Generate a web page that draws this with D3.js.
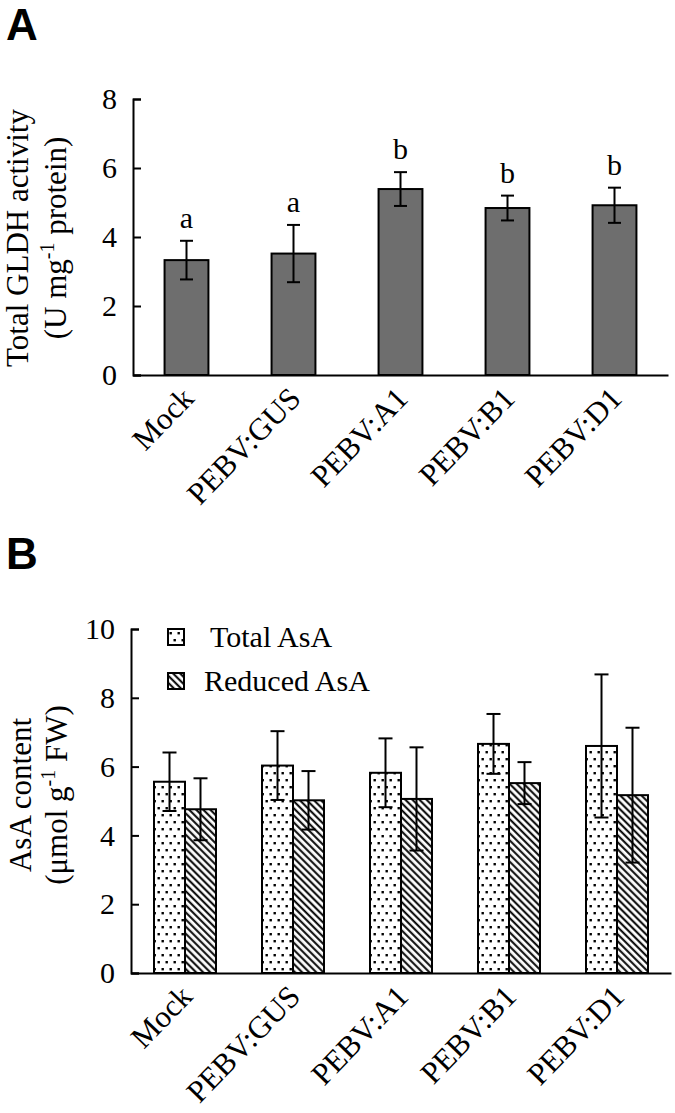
<!DOCTYPE html>
<html><head><meta charset="utf-8">
<script src="https://cdn.jsdelivr.net/npm/d3@7"></script>
<style>
body{margin:0;background:#fff}
svg{display:block}
text{font-family:"Liberation Serif","Times New Roman",serif;fill:#000}
</style>
</head><body>
<svg id="c" width="675" height="1113"></svg>
<script>
// ---------- DATA ----------
const categories = ["Mock", "PEBV:GUS", "PEBV:A1", "PEBV:B1", "PEBV:D1"];
// Panel A
const gldhMean = [3.33, 3.52, 5.39, 4.84, 4.92];
const gldhErr = [0.56, 0.83, 0.49, 0.36, 0.51];
const gldhLetters = ["a", "a", "b", "b", "b"];
const gldhTicks = [0, 2, 4, 6, 8];
// Panel B
const seriesNames = ["Total AsA", "Reduced AsA"];
const totalAsA = [5.56, 6.03, 5.82, 6.66, 6.60];
const totalAsAErr = [0.85, 1.00, 1.00, 0.87, 2.08];
const reducedAsA = [4.76, 5.02, 5.06, 5.52, 5.17];
const reducedAsAErr = [0.90, 0.85, 1.50, 0.61, 1.96];
const asaTicks = [0, 2, 4, 6, 8, 10];

// ---------- SETUP ----------
const svg = d3.select("#c");
const defs = svg.append("defs");
const dots = defs.append("pattern").attr("id", "dots").attr("patternUnits", "userSpaceOnUse")
  .attr("width", 8).attr("height", 14);
dots.append("rect").attr("width", 8).attr("height", 14).attr("fill", "#fff");
dots.append("rect").attr("x", 1.5).attr("y", 2).attr("width", 2.4).attr("height", 2.4).attr("fill", "#000");
dots.append("rect").attr("x", 5.5).attr("y", 9).attr("width", 2.4).attr("height", 2.4).attr("fill", "#000");

const hatch = defs.append("pattern").attr("id", "hatch").attr("patternUnits", "userSpaceOnUse")
  .attr("width", 5).attr("height", 5).attr("patternTransform", "rotate(-45)");
hatch.append("rect").attr("width", 5).attr("height", 5).attr("fill", "#fff");
hatch.append("line").attr("x1", 1.2).attr("y1", 0).attr("x2", 1.2).attr("y2", 5)
  .attr("stroke", "#000").attr("stroke-width", 2);

function styleAxis(g, fs) {
  g.attr("font-family", null).attr("font-size", null);
  g.selectAll("path.domain").attr("stroke", "#000").attr("stroke-width", 2);
  g.selectAll(".tick line").attr("stroke", "#000").attr("stroke-width", 2);
  g.selectAll("text").style("font-size", fs + "px");
}

function yTitle(x1, x2, cy, line1, line2a, sup, line2b) {
  svg.append("text").attr("transform", `translate(${x1},${cy}) rotate(-90)`)
    .attr("text-anchor", "middle").style("font-size", "31px").text(line1);
  const t = svg.append("text").attr("transform", `translate(${x2},${cy}) rotate(-90)`)
    .attr("text-anchor", "middle").style("font-size", "31px");
  t.append("tspan").text(line2a);
  t.append("tspan").attr("dy", -12).style("font-size", "20px").text(sup);
  t.append("tspan").attr("dy", 12).text(line2b);
}

function xAxis(xs, yPos) {
  const g = svg.append("g").attr("transform", `translate(0,${yPos})`)
    .call(d3.axisBottom(xs).tickSize(0).tickSizeOuter(0));
  styleAxis(g, 31);
  g.selectAll(".tick text").attr("x", 0).attr("y", 0).attr("dy", null)
    .attr("text-anchor", "end").attr("transform", "translate(9,25) rotate(-46)");
  return g;
}

function errBar(cx, yTop, yBot, cap) {
  const g = svg.append("g").attr("stroke", "#000").attr("stroke-width", 2);
  g.append("line").attr("x1", cx).attr("x2", cx).attr("y1", yTop).attr("y2", yBot);
  g.append("line").attr("x1", cx - cap / 2).attr("x2", cx + cap / 2).attr("y1", yTop).attr("y2", yTop);
  g.append("line").attr("x1", cx - cap / 2).attr("x2", cx + cap / 2).attr("y1", yBot).attr("y2", yBot);
}

// ---------- PANEL A ----------
svg.append("text").attr("x", 6).attr("y", 40)
  .style("font-family", "'Liberation Sans', Arial, sans-serif").style("font-weight", "bold")
  .style("font-size", "44px").text("A");

const xA = d3.scaleBand().domain(categories).range([133, 668]);
const yA = d3.scaleLinear().domain([0, 8]).range([375, 99]);
const barWA = xA.bandwidth() * 0.41;

const gyA = svg.append("g").attr("transform", "translate(133,0)")
  .call(d3.axisLeft(yA).tickValues(gldhTicks).tickSize(-8).tickSizeOuter(-8).tickPadding(16));
styleAxis(gyA, 30);

categories.forEach((c, i) => {
  const cx = xA(c) + xA.bandwidth() / 2;
  svg.append("rect").attr("x", cx - barWA / 2).attr("width", barWA)
    .attr("y", yA(gldhMean[i])).attr("height", yA(0) - yA(gldhMean[i]))
    .attr("fill", "#6e6e6e").attr("stroke", "#000").attr("stroke-width", 2);
  errBar(cx, yA(gldhMean[i] + gldhErr[i]), yA(gldhMean[i] - gldhErr[i]), 13);
  svg.append("text").attr("x", cx).attr("y", yA(gldhMean[i] + gldhErr[i]) - 13)
    .attr("text-anchor", "middle").style("font-size", "30px").text(gldhLetters[i]);
});
xAxis(xA, 375);
yTitle(28, 66, 238, "Total GLDH activity", "(U mg", "-1", " protein)");

// ---------- PANEL B ----------
svg.append("text").attr("x", 6).attr("y", 569)
  .style("font-family", "'Liberation Sans', Arial, sans-serif").style("font-weight", "bold")
  .style("font-size", "44px").text("B");

const xB = d3.scaleBand().domain(categories).range([131, 671]);
const xSub = d3.scaleBand().domain(seriesNames).range([0, xB.bandwidth() * 0.574]);
const yB = d3.scaleLinear().domain([0, 10]).range([973, 629]);
const seriesData = [
  { name: seriesNames[0], vals: totalAsA, errs: totalAsAErr, fill: "url(#dots)" },
  { name: seriesNames[1], vals: reducedAsA, errs: reducedAsAErr, fill: "url(#hatch)" }
];

const gyB = svg.append("g").attr("transform", "translate(131,0)")
  .call(d3.axisLeft(yB).tickValues(asaTicks).tickSize(-8).tickSizeOuter(-8).tickPadding(16));
styleAxis(gyB, 30);

categories.forEach((c, i) => {
  const gx = xB(c) + (xB.bandwidth() - xSub.range()[1]) / 2;
  seriesData.forEach(s => {
    const bx = gx + xSub(s.name);
    svg.append("rect").attr("x", bx).attr("width", xSub.bandwidth())
      .attr("y", yB(s.vals[i])).attr("height", yB(0) - yB(s.vals[i]))
      .attr("fill", s.fill).attr("stroke", "#000").attr("stroke-width", 2);
  });
  seriesData.forEach(s => {
    const cx = gx + xSub(s.name) + xSub.bandwidth() / 2;
    errBar(cx, yB(s.vals[i] + s.errs[i]), yB(s.vals[i] - s.errs[i]), 14);
  });
});
xAxis(xB, 973);
yTitle(31, 67, 795, "AsA content", "(\u03bcmol g", "-1", " FW)");

// legend
const legY = [629, 673], legTextX = [210, 204];
seriesData.forEach((s, k) => {
  svg.append("rect").attr("x", 168).attr("y", legY[k]).attr("width", 16).attr("height", 16)
    .attr("fill", s.fill).attr("stroke", "#000").attr("stroke-width", 2);
  svg.append("text").attr("x", legTextX[k]).attr("y", legY[k] + 18)
    .style("font-size", "30px").text(s.name);
});
</script>
</body></html>
